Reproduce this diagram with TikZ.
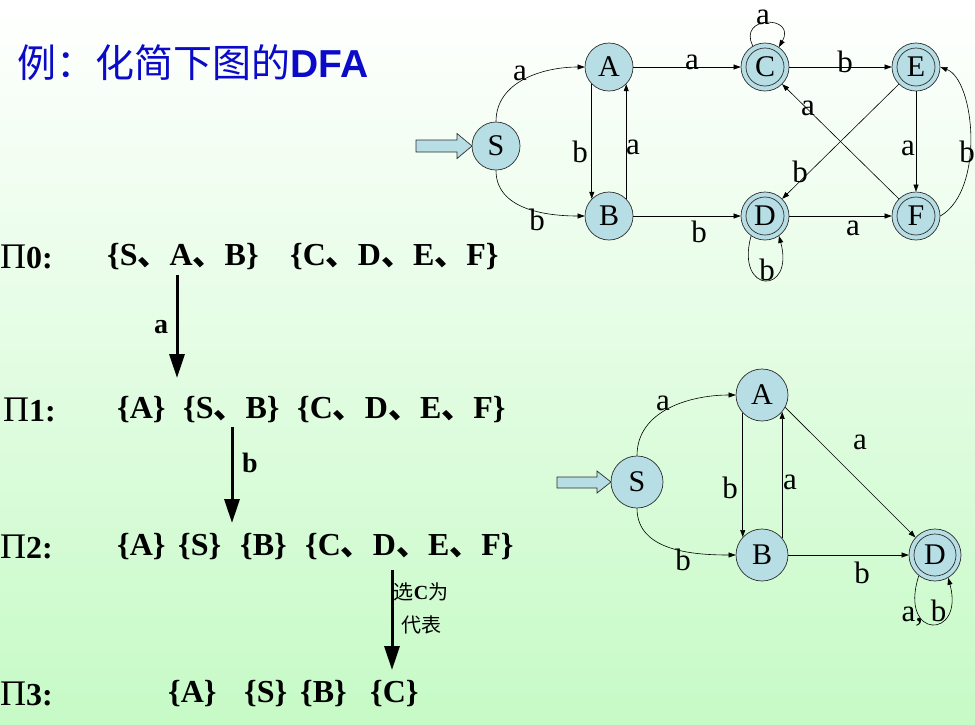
\documentclass[tikz,border=0pt]{standalone}
\usepackage{fontspec}
\setmainfont{Liberation Serif}
\newfontfamily\cjk{Noto Sans CJK SC}
\newfontfamily\arialfam{Liberation Sans}
\usetikzlibrary{arrows.meta}
\definecolor{nodefill}{RGB}{183,221,229}
\definecolor{nodeline}{RGB}{45,45,45}
\definecolor{titleblue}{RGB}{10,10,200}
\definecolor{bggreen}{RGB}{198,250,198}
\newcommand\dun{{\cjk 、}}
\begin{document}
\begin{tikzpicture}[x=1pt,y=1pt,
  st/.style={circle, draw=nodeline, fill=nodefill, line width=0.7pt, minimum size=48pt, inner sep=0pt, font=\fontsize{30}{30}\selectfont},
  acc/.style={st, path picture={\draw[nodeline, line width=0.7pt] (path picture bounding box.center) circle[radius=19pt];}},
  stb/.style={st, minimum size=52pt},
  accb/.style={stb, path picture={\draw[nodeline, line width=0.7pt] (path picture bounding box.center) circle[radius=21pt];}},
  tr/.style={-{Triangle[length=7pt,width=5pt]}, line width=0.6pt},
  lbl/.style={font=\fontsize{31}{31}\selectfont, inner sep=0pt},
  setx/.style={font=\bfseries\fontsize{32}{32}\selectfont, anchor=west, inner sep=0pt},
  pilbl/.style={font=\fontsize{32}{32}\selectfont, anchor=west, inner sep=0pt},
  bigarr/.style={-{Triangle[length=24pt,width=15pt]}, line width=3pt},
  blbl/.style={font=\bfseries\fontsize{28}{28}\selectfont, inner sep=0pt},
  startarr/.style={draw=nodeline, fill=nodefill, line width=0.7pt},
]
\useasboundingbox (0,0) rectangle (975,-724);
\shade[top color=white, bottom color=bggreen] (0,0) rectangle (975,-724);

% title
\node[anchor=west, inner sep=0pt, text=titleblue] (title) at (17,-63)
  {{\fontsize{39}{39}\selectfont\cjk 例：化简下图的}{\fontsize{39}{39}\selectfont\arialfam\bfseries DFA}};

% partition rows
\node[pilbl] (p0) at (0,-257) {{\fontsize{36}{36}\selectfont Π}\textbf{0:}};
\node[pilbl] (p1) at (3,-410) {{\fontsize{36}{36}\selectfont Π}\textbf{1:}};
\node[pilbl] (p2) at (0,-547) {{\fontsize{36}{36}\selectfont Π}\textbf{2:}};
\node[pilbl] (p3) at (0,-694) {{\fontsize{36}{36}\selectfont Π}\textbf{3:}};

\node[setx] (r0a) at (107,-257) {\{S\dun A\dun B\}};
\node[setx] (r0b) at (290,-257) {\{C\dun D\dun E\dun F\}};

\node[setx] (r1a) at (117,-410) {\{A\}};
\node[setx] (r1b) at (183,-410) {\{S\dun B\}};
\node[setx] (r1c) at (297,-410) {\{C\dun D\dun E\dun F\}};

\node[setx] (r2a) at (117,-547) {\{A\}};
\node[setx] (r2b) at (178,-547) {\{S\}};
\node[setx] (r2c) at (240,-547) {\{B\}};
\node[setx] (r2d) at (305,-547) {\{C\dun D\dun E\dun F\}};

\node[setx] (r3a) at (168,-694) {\{A\}};
\node[setx] (r3b) at (244,-694) {\{S\}};
\node[setx] (r3c) at (300,-694) {\{B\}};
\node[setx] (r3d) at (370,-694) {\{C\}};

\coordinate (a0s) at (177,-275);
\coordinate (a0e) at (177,-378);
\draw[bigarr] (a0s) -- (a0e);
\node[blbl] (la0) at (161,-327) {a};
\coordinate (a1s) at (232,-427);
\coordinate (a1e) at (232,-523);
\draw[bigarr] (a1s) -- (a1e);
\node[blbl] (la1) at (250,-463) {b};
\coordinate (a2s) at (392,-570);
\coordinate (a2e) at (392,-670);
\draw[bigarr] (a2s) -- (a2e);
\node[inner sep=0pt, align=center, font=\fontsize{20}{33}\selectfont] (la2) at (421,-608)
  {{\cjk 选}\textbf{C}{\cjk 为}\\{\cjk 代表}};

% top DFA
\node[st] (S) at (496,-146) {S};
\node[st] (A) at (609,-67) {A};
\node[st] (B) at (609,-216) {B};
\node[acc] (C) at (765,-67) {C};
\node[acc] (D) at (765,-216) {D};
\node[acc] (E) at (916,-67) {E};
\node[acc] (F) at (916,-216) {F};

\draw[startarr] (416,-140) -- (457,-140) -- (457,-133.5) -- (472,-146) -- (457,-158.5) -- (457,-152) -- (416,-152) -- cycle;

\draw[tr] (S.north) to[out=90,in=180] (A.west);
\draw[tr] (S.south) to[out=-90,in=180] (B.west);
\draw[tr] (A.-135) -- (B.135);
\draw[tr] (B.45) -- (A.-45);
\draw[tr] (A) -- (C);
\draw[tr] (C) -- (E);
\draw[tr] (B) -- (D);
\draw[tr] (D) -- (F);
\draw[tr] (E) -- (F);
\draw[tr] (E.-135) -- (D.45);
\draw[tr] (F.135) -- (C.-45);
\draw[tr] (F.east) .. controls (985,-190) and (975,-80) .. (E.east);
\draw[tr] (C.120) .. controls (737,-15) and (797,-15) .. (C.55);
\draw[tr] (D.-125) .. controls (735,-295) and (795,-295) .. (D.-55);

\node[lbl] (t1) at (520,-73) {a};
\node[lbl] (t2) at (537,-220) {b};
\node[lbl] (t3) at (580,-152) {b};
\node[lbl] (t4) at (633,-147) {a};
\node[lbl] (t5) at (692,-62) {a};
\node[lbl] (t6) at (845,-62) {b};
\node[lbl] (t7) at (908,-148) {a};
\node[lbl] (t8) at (967,-152) {b};
\node[lbl] (t9) at (800,-172) {b};
\node[lbl] (t10) at (808,-108) {a};
\node[lbl] (t11) at (699,-232) {b};
\node[lbl] (t12) at (853,-228) {a};
\node[lbl] (t13) at (763,-17) {a};
\node[lbl] (t14) at (767,-270) {b};

% bottom DFA
\node[stb] (S2) at (637,-482) {S};
\node[stb] (A2) at (762,-395) {A};
\node[stb] (B2) at (762,-555) {B};
\node[accb] (D2) at (935,-555) {D};

\draw[startarr] (557,-477) -- (597,-477) -- (597,-471) -- (611,-482) -- (597,-493) -- (597,-488) -- (557,-488) -- cycle;

\draw[tr] (S2.north) to[out=90,in=180] (A2.west);
\draw[tr] (S2.south) to[out=-90,in=180] (B2.west);
\draw[tr] (A2.-137) -- (B2.137);
\draw[tr] (B2.40) -- (A2.-40);
\draw[tr] (A2.-28) -- (D2.138);
\draw[tr] (B2) -- (D2);
\draw[tr] (D2.-128) .. controls (898,-640) and (965,-640) .. (D2.-60);

\node[lbl] (u1) at (663,-403) {a};
\node[lbl] (u2) at (683,-560) {b};
\node[lbl] (u3) at (730,-488) {b};
\node[lbl] (u4) at (790,-482) {a};
\node[lbl] (u5) at (860,-442) {a};
\node[lbl] (u6) at (862,-573) {b};
\node[lbl] (u7) at (924,-613) {a, b};
\end{tikzpicture}
\end{document}
